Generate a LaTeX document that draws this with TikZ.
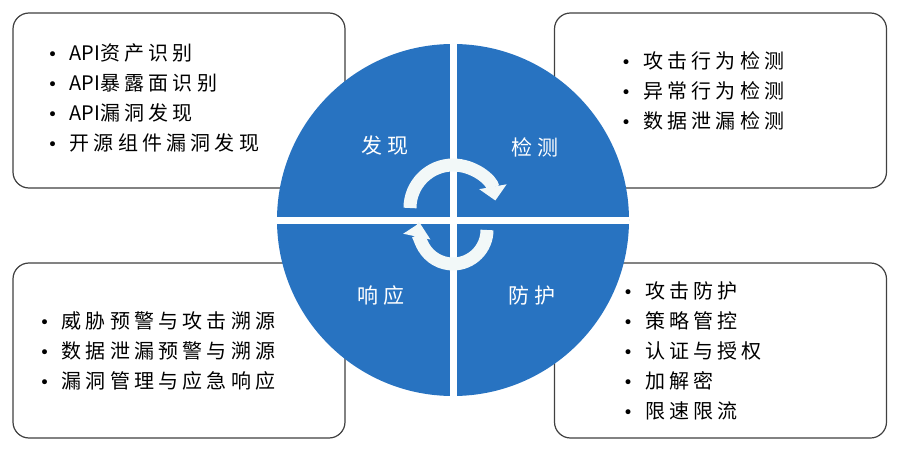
\documentclass[tikz,border=0pt]{standalone}
\usepackage{fontspec}
\setmainfont{Noto Sans CJK SC}
\newfontfamily\listfont[LetterSpace=21]{Noto Sans CJK SC}
\newfontfamily\quadfont[LetterSpace=25]{Noto Sans CJK SC}
\newfontfamily\bulletfont{DejaVu Sans}
\usepackage{tikz}
\usetikzlibrary{arrows.meta,positioning}

\definecolor{wheelblue}{HTML}{2873C1}
\definecolor{cyclewhite}{HTML}{F2F8F8}
\definecolor{boxline}{HTML}{404040}

\newcommand{\blt}{{\bulletfont\fontsize{17}{30}\selectfont •}\hspace{12pt}}
\newcommand{\api}{{\rmfamily API}}

\begin{document}
\begin{tikzpicture}[
    x = 1pt, y = -1pt, % pixel units, y runs downwards
    box/.style = {draw = boxline, line width = 1.2pt, rounded corners = 16pt,
      fill = white, minimum width = 332pt, minimum height = 175pt, inner sep = 0pt},
    items/.style = {anchor = west, align = left, inner sep = 0pt,
      font = \listfont\fontsize{20}{30}\selectfont},
    wheel/.style = {circle, fill = wheelblue, minimum size = 352pt, inner sep = 0pt},
    sep/.style = {draw = white, line width = 7pt},
    quad/.style = {text = white, inner sep = 0pt, font = \quadfont\fontsize{21}{25}\selectfont},
    cyc/.style = {draw = cyclewhite, line width = 13pt,
      -{Triangle[width = 27pt, length = 14pt]}}
  ]

  \useasboundingbox (0,0) rectangle (900,452);

  % the four boxes
  \node[box] (tl) at (179,100.5) {};
  \node[box] (tr) at (720.5,100.5) {};
  \node[box] (bl) at (179,350.5) {};
  \node[box] (br) at (720.5,350.5) {};

  \node[items, right = 35pt of tl.west, yshift = 2.5pt] (findlist)
    {\blt \api 资产识别\\ \blt \api 暴露面识别\\ \blt \api 漏洞发现\\ \blt 开源组件漏洞发现};
  \node[items] (detectlist) at (621,91)
    {\blt 攻击行为检测\\ \blt 异常行为检测\\ \blt 数据泄漏检测};
  \node[items, right = 27pt of bl.west] (respondlist)
    {\blt 威胁预警与攻击溯源\\ \blt 数据泄漏预警与溯源\\ \blt 漏洞管理与应急响应};
  \node[items, right = 69pt of br.west] (protectlist)
    {\blt 攻击防护\\ \blt 策略管控\\ \blt 认证与授权\\ \blt 加解密\\ \blt 限速限流};

  % the wheel
  \node[wheel] (hub) at (453,220) {};
  \draw[sep] (hub.north) -- (hub.south);
  \draw[sep] (hub.west) -- (hub.east);

  \node[quad] (find) at (385,146) {发现};
  \node[quad] (detect) at (535,147) {检测};
  \node[quad] (respond) at (381,296) {响应};
  \node[quad] (protect) at (532,296) {防护};

  % cycle arrows
  \draw[cyc] (410,208) arc[start angle = 180, end angle = 350, radius = 43];
  \draw[cyc] (487,230) arc[start angle = 0, end angle = 192, radius = 34];

\end{tikzpicture}
\end{document}
